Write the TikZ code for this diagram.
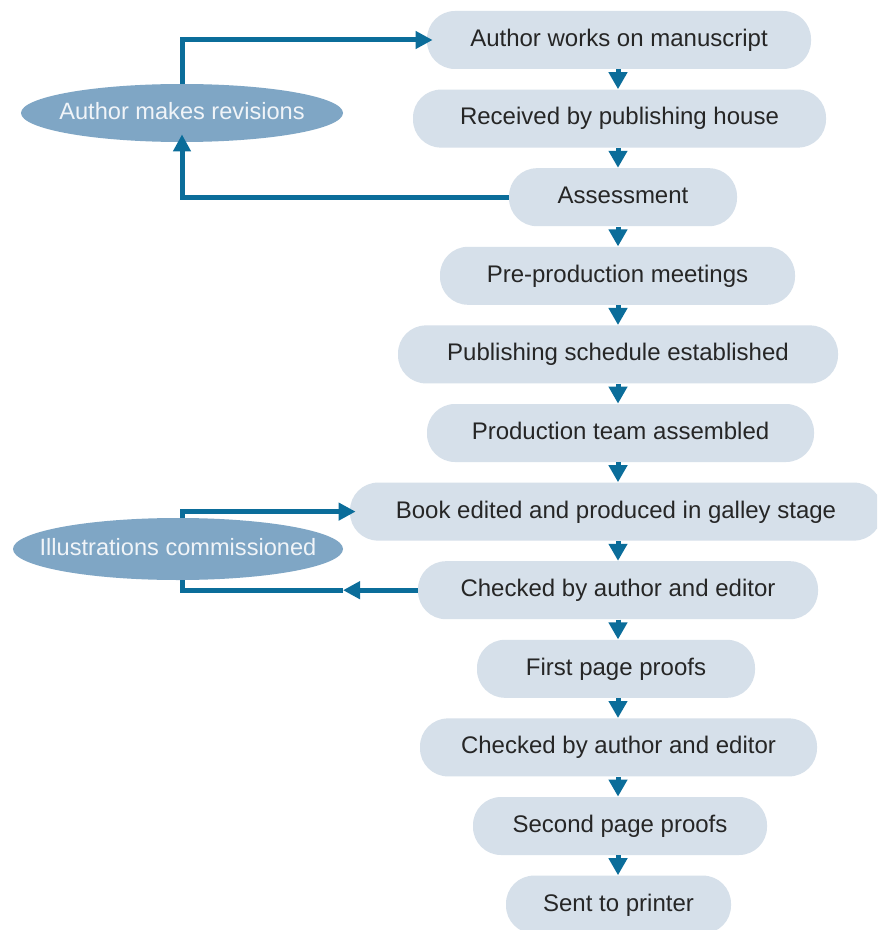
\documentclass[tikz,border=0pt]{standalone}
\usepackage{fontspec}
\setmainfont{Liberation Sans}
\usetikzlibrary{arrows.meta,shapes.geometric}
\definecolor{arr}{HTML}{0B6D9A}
\definecolor{boxfill}{HTML}{D6E0EA}
\definecolor{ellfill}{HTML}{7FA6C5}
\definecolor{txt}{HTML}{262626}
\definecolor{elltxt}{HTML}{F0F4F8}
\begin{document}
\begin{tikzpicture}[x=0.5pt,y=-0.5pt,
  box/.style={rectangle, rounded corners=14pt, fill=boxfill, minimum height=29pt,
    inner sep=0pt, text=txt, text height=8.8pt, text depth=2.4pt,
    font=\fontsize{12}{14}\selectfont},
  ell/.style={ellipse, fill=ellfill, inner xsep=-12pt, inner ysep=0pt, text=elltxt,
    text height=8.8pt, text depth=2.4pt, font=\fontsize{11.8}{14}\selectfont},
  varrow/.style={draw=arr, line width=2.5pt, -{Triangle[length=8.5pt,width=9pt]}},
  harrow/.style={draw=arr, line width=2.5pt, -{Triangle[length=8.5pt,width=8.5pt]}},
  hline/.style={draw=arr, line width=2.5pt}]
\clip (0,0) rectangle (877,930);
\fill[white] (0,0) rectangle (877,930);
% main column
\node[box, minimum width=192pt] (n1) at (619,40) {Author works on manuscript};
\node[box, minimum width=206.5pt] (n2) at (619.5,118.6) {Received by publishing house};
\node[box, minimum width=114pt] (n3) at (623,197.2) {Assessment};
\node[box, minimum width=177.5pt] (n4) at (617.5,275.8) {Pre-production meetings};
\node[box, minimum width=220pt] (n5) at (618,354.4) {Publishing schedule established};
\node[box, minimum width=193.5pt] (n6) at (620.5,433) {Production team assembled};
\node[box, minimum width=266pt] (n7) at (616,511.6) {Book edited and produced in galley stage};
\node[box, minimum width=200pt] (n8) at (618,590.2) {Checked by author and editor};
\node[box, minimum width=139pt] (n9) at (616,668.8) {First page proofs};
\node[box, minimum width=198.5pt] (n10) at (618.5,747.4) {Checked by author and editor};
\node[box, minimum width=147pt] (n11) at (620,826) {Second page proofs};
\node[box, minimum width=112.5pt] (n12) at (618.5,904.6) {Sent to printer};
% side ellipses
\node[ell, minimum width=161pt, minimum height=29pt] (rev) at (182,113) {Author makes revisions};
\node[ell, minimum width=165pt, minimum height=31pt] (ill) at (178,549) {Illustrations commissioned};
% vertical arrows
\foreach \a/\b in {n1/n2,n2/n3,n3/n4,n4/n5,n5/n6,n6/n7,n7/n8,n8/n9,n9/n10,n10/n11,n11/n12}
  \draw[varrow] (\a.south -| 618,0) -- (\b.north -| 618,0);
% revision loop
\draw[harrow, shorten >=-3pt] (rev.north) |- (n1.west);
\draw[harrow, shorten >=-4pt] (n3.west) -| (rev.south);
% illustrations loop
\draw[harrow, shorten >=-3pt] (ill.north -| 182,0) |- (n7.west);
\coordinate (mid) at (343,590.2);
\draw[harrow] (n8.west) -- (mid);
\draw[hline] (mid) -| (ill.south -| 182,0);
\end{tikzpicture}
\end{document}
